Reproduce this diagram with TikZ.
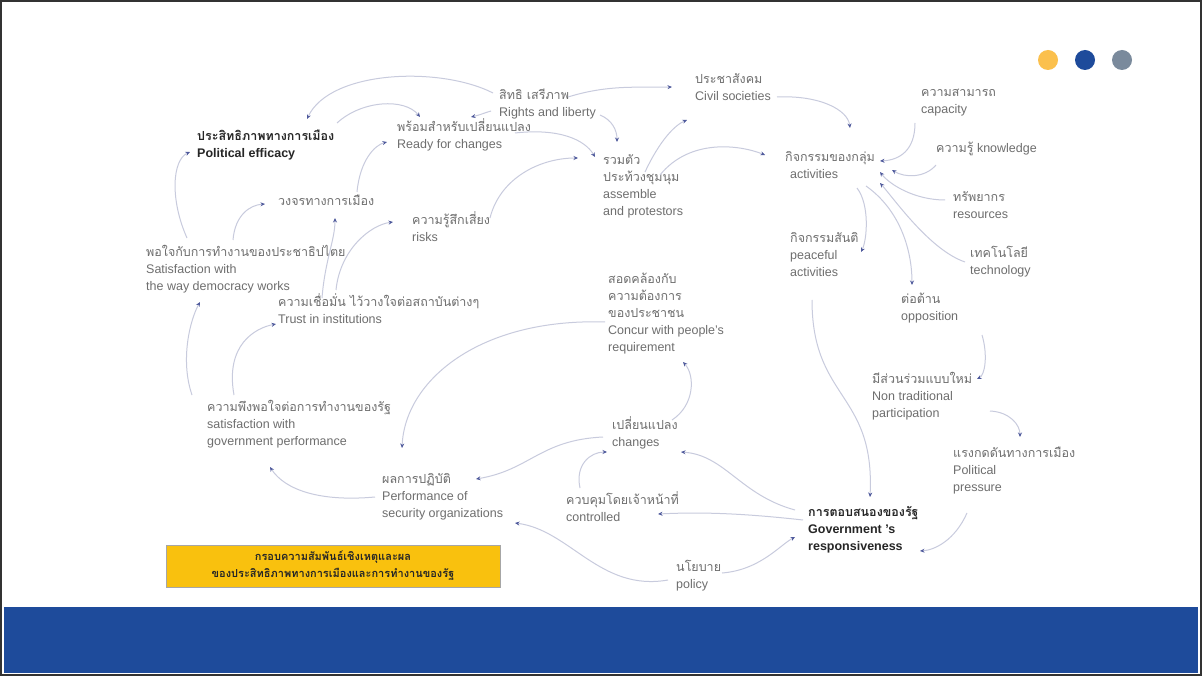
\documentclass[tikz,border=0pt]{standalone}
\usepackage{fontspec}
\setmainfont{Liberation Sans}
\newfontfamily\thf[Script=Thai]{Loma}
\usetikzlibrary{arrows.meta}
\definecolor{lineC}{HTML}{C8CBDD}
\definecolor{tipC}{HTML}{4F5A9C}
\definecolor{txtC}{HTML}{6E6E6E}
\definecolor{bandC}{HTML}{1E4B9B}
\definecolor{dotY}{HTML}{FBC04D}
\definecolor{dotG}{HTML}{7A8A9C}
\definecolor{boxY}{HTML}{F9C10E}
\newcommand{\txtlines}[1]{\begin{tabular}[t]{@{}l@{}}#1\end{tabular}}
\begin{document}
\begin{tikzpicture}[x=1pt,y=-1pt,
  lbl/.style={anchor=base west, inner sep=0pt, font=\fontsize{12.5}{17}\selectfont, text=txtC},
  blbl/.style={lbl, font=\fontsize{12.5}{17}\selectfont\bfseries, text=black!85},
  conn/.style={draw=lineC, line width=1pt, -{Stealth[length=4.5pt,width=4pt,color=tipC]}}]
\useasboundingbox (0,0) rectangle (1202,676);
\fill[white] (0,0) rectangle (1202,676);
% band and frame
\fill[bandC] (4,607) rectangle (1198,673);
\draw[black!80, line width=2pt] (1,1) rectangle (1201,675);
% dots
\fill[dotY] (1048,60) circle (10);
\fill[bandC] (1085,60) circle (10);
\fill[dotG] (1122,60) circle (10);

% nodes
\node[blbl] (pe) at (197,141) {\txtlines{{\thf ประสิทธิภาพทางการเมือง}\\Political efficacy}};
\node[lbl] (rights) at (499,100) {\txtlines{{\thf สิทธิ เสรีภาพ}\\Rights and liberty}};
\node[lbl] (ready) at (397,132) {\txtlines{{\thf พร้อมสำหรับเปลี่ยนแปลง}\\Ready for changes}};
\node[lbl] (civil) at (695,84) {\txtlines{{\thf ประชาสังคม}\\Civil societies}};
\node[lbl] (assemble) at (603,165) {\txtlines{{\thf รวมตัว}\\{\thf ประท้วงชุมนุม}\\assemble\\and protestors}};
\node[lbl] (activities) at (785,162) {\txtlines{{\thf กิจกรรมของกลุ่ม}\\\hspace*{5pt}activities}};
\node[lbl] (capacity) at (921,97) {\txtlines{{\thf ความสามารถ}\\capacity}};
\node[lbl] (knowledge) at (936,153) {\txtlines{{\thf ความรู้} knowledge}};
\node[lbl] (resources) at (953,202) {\txtlines{{\thf ทรัพยากร}\\resources}};
\node[lbl] (technology) at (970,258) {\txtlines{{\thf เทคโนโลยี}\\technology}};
\node[lbl] (peaceful) at (790,243) {\txtlines{{\thf กิจกรรมสันติ}\\peaceful\\activities}};
\node[lbl] (opposition) at (901,304) {\txtlines{{\thf ต่อต้าน}\\opposition}};
\node[lbl] (nontrad) at (872,383) {\txtlines{{\thf มีส่วนร่วมแบบใหม่}\\Non traditional\\participation}};
\node[lbl] (pressure) at (953,457) {\txtlines{{\thf แรงกดดันทางการเมือง}\\Political\\pressure}};
\node[blbl] (resp) at (808,516) {\txtlines{{\thf การตอบสนองของรัฐ}\\Government 's\\responsiveness}};
\node[lbl] (policy) at (676,571) {\txtlines{{\thf นโยบาย}\\policy}};
\node[lbl] (controlled) at (566,504) {\txtlines{{\thf ควบคุมโดยเจ้าหน้าที่}\\controlled}};
\node[lbl] (changes) at (612,429) {\txtlines{{\thf เปลี่ยนแปลง}\\changes}};
\node[lbl] (concur) at (608,284) {\txtlines{{\thf สอดคล้องกับ}\\{\thf ความต้องการ}\\{\thf ของประชาชน}\\Concur with people's\\requirement}};
\node[lbl] (perf) at (382,483) {\txtlines{{\thf ผลการปฏิบัติ}\\Performance of\\security organizations}};
\node[lbl] (satgov) at (207,411) {\txtlines{{\thf ความพึงพอใจต่อการทำงานของรัฐ}\\satisfaction with\\government performance}};
\node[lbl] (trust) at (278,307) {\txtlines{{\thf ความเชื่อมั่น ไว้วางใจต่อสถาบันต่างๆ}\\Trust in institutions}};
\node[lbl] (satdem) at (146,257) {\txtlines{{\thf พอใจกับการทำงานของประชาธิปไตย}\\Satisfaction with\\the way democracy works}};
\node[lbl] (cycle) at (278,206) {\txtlines{{\thf วงจรทางการเมือง}}};
\node[lbl] (risks) at (412,225) {\txtlines{{\thf ความรู้สึกเสี่ยง}\\risks}};
\node[draw=black!35, fill=boxY, minimum width=334pt, minimum height=42pt, inner sep=0pt, align=center,
  font=\fontsize{11}{17}\selectfont\thf\bfseries, text=black!85] (box) at (333,566)
  {กรอบความสัมพันธ์เชิงเหตุและผล\\ของประสิทธิภาพทางการเมืองและการทำงานของรัฐ};

% connectors
\draw[conn] ([shift={(-6,-7)}]rights.base west) .. controls (440,66) and (330,70) .. ([shift={(110,-22)}]pe.base west);
\draw[conn] ([shift={(140,-18)}]pe.base west) .. controls (362,100) and (405,98) .. ([shift={(23,-15)}]ready.base west);
\draw[conn] ([shift={(-8,11)}]rights.base west) .. controls (484,113) and (480,115) .. ([shift={(74,-15)}]ready.base west);
\draw[conn] ([shift={(69,-3)}]rights.base west) .. controls (610,84) and (640,88) .. ([shift={(-23,3)}]civil.base west);
\draw[conn] ([shift={(101,15)}]rights.base west) .. controls (612,120) and (617,130) .. ([shift={(14,-23)}]assemble.base west);
\draw[conn] ([shift={(118,1)}]ready.base west) .. controls (560,128) and (585,140) .. ([shift={(-8,-8)}]assemble.base west);
\draw[conn] ([shift={(78,-7)}]risks.base west) .. controls (500,178) and (540,158) .. ([shift={(-25,-7)}]assemble.base west);
\draw[conn] ([shift={(42,7)}]assemble.base west) .. controls (660,140) and (675,125) .. ([shift={(-8,36)}]civil.base west);
\draw[conn] ([shift={(57,10)}]assemble.base west) .. controls (690,138) and (740,145) .. ([shift={(-20,-7)}]activities.base west);
\draw[conn] ([shift={(82,13)}]civil.base west) .. controls (820,95) and (848,110) .. ([shift={(65,-34)}]activities.base west);
\draw[conn] ([shift={(-6,26)}]capacity.base west) .. controls (915,150) and (900,160) .. ([shift={(95,-1)}]activities.base west);
\draw[conn] ([shift={(0,12)}]knowledge.base west) .. controls (925,178) and (905,178) .. ([shift={(107,8)}]activities.base west);
\draw[conn] ([shift={(-8,-2)}]resources.base west) .. controls (915,200) and (890,185) .. ([shift={(95,10)}]activities.base west);
\draw[conn] ([shift={(-5,4)}]technology.base west) .. controls (930,250) and (895,200) .. ([shift={(95,21)}]activities.base west);
\draw[conn] ([shift={(72,26)}]activities.base west) .. controls (870,205) and (867,240) .. ([shift={(71,9)}]peaceful.base west);
\draw[conn] ([shift={(81,24)}]activities.base west) .. controls (900,210) and (912,250) .. ([shift={(11,-19)}]opposition.base west);
\draw[conn] ([shift={(81,31)}]opposition.base west) .. controls (988,355) and (985,375) .. ([shift={(105,-4)}]nontrad.base west);
\draw[conn] ([shift={(118,28)}]nontrad.base west) .. controls (1010,412) and (1020,425) .. ([shift={(67,-20)}]pressure.base west);
\draw[conn] ([shift={(22,57)}]peaceful.base west) .. controls (812,400) and (875,392) .. ([shift={(62,-19)}]resp.base west);
\draw[conn] ([shift={(14,56)}]pressure.base west) .. controls (955,540) and (935,550) .. ([shift={(112,35)}]resp.base west);
\draw[conn] ([shift={(-5,4)}]resp.base west) .. controls (740,513) and (700,512) .. ([shift={(92,10)}]controlled.base west);
\draw[conn] ([shift={(-13,-6)}]resp.base west) .. controls (740,495) and (725,455) .. ([shift={(69,23)}]changes.base west);
\draw[conn] ([shift={(14,-16)}]controlled.base west) .. controls (575,465) and (590,452) .. ([shift={(-5,23)}]changes.base west);
\draw[conn] ([shift={(60,-9)}]changes.base west) .. controls (695,405) and (695,375) .. ([shift={(75,78)}]concur.base west);
\draw[conn] ([shift={(-3,38)}]concur.base west) .. controls (480,318) and (405,380) .. ([shift={(20,-35)}]perf.base west);
\draw[conn] ([shift={(-9,8)}]changes.base west) .. controls (540,440) and (530,470) .. ([shift={(94,-4)}]perf.base west);
\draw[conn] ([shift={(-7,14)}]perf.base west) .. controls (320,502) and (285,490) .. ([shift={(63,56)}]satgov.base west);
\draw[conn] ([shift={(-8,9)}]policy.base west) .. controls (600,592) and (570,530) .. ([shift={(133,40)}]perf.base west);
\draw[conn] ([shift={(46,2)}]policy.base west) .. controls (760,570) and (780,545) .. ([shift={(-13,21)}]resp.base west);
\draw[conn] ([shift={(-15,-16)}]satgov.base west) .. controls (180,360) and (190,320) .. ([shift={(54,45)}]satdem.base west);
\draw[conn] ([shift={(27,-16)}]satgov.base west) .. controls (225,345) and (255,328) .. ([shift={(-2,17)}]trust.base west);
\draw[conn] ([shift={(41,-19)}]satdem.base west) .. controls (170,200) and (172,160) .. ([shift={(-7,11)}]pe.base west);
\draw[conn] ([shift={(87,-17)}]satdem.base west) .. controls (235,215) and (250,205) .. ([shift={(-13,-2)}]cycle.base west);
\draw[conn] ([shift={(44,-9)}]trust.base west) .. controls (325,260) and (335,240) .. ([shift={(57,12)}]cycle.base west);
\draw[conn] ([shift={(58,-17)}]trust.base west) .. controls (340,250) and (370,225) .. ([shift={(-19,-3)}]risks.base west);
\draw[conn] ([shift={(79,-14)}]cycle.base west) .. controls (360,160) and (375,145) .. ([shift={(-10,10)}]ready.base west);
\end{tikzpicture}
\end{document}
